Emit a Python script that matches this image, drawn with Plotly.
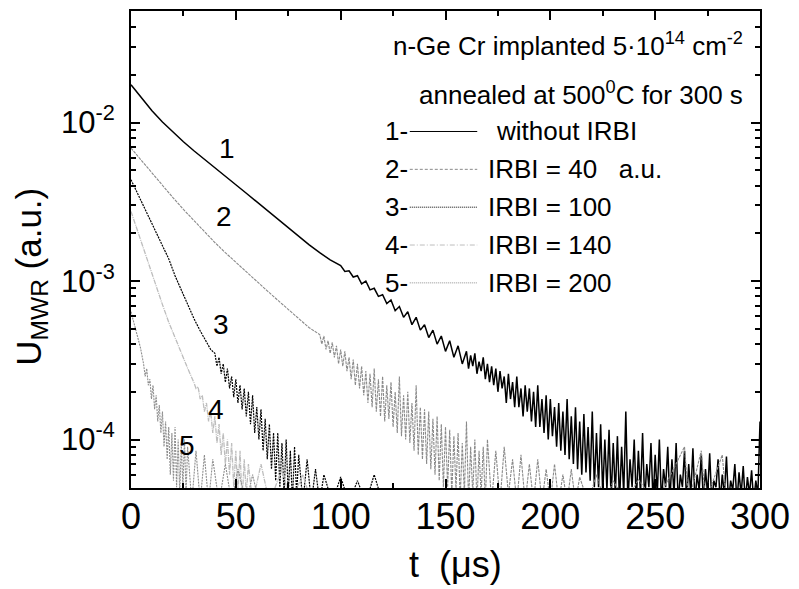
import math
import plotly.graph_objects as go

# ---------------- data ----------------
# curve 1: without IRBI
t1 = [0, 5, 10, 15, 20, 25, 30, 35, 40, 45, 50, 55, 60, 65, 70, 75, 80, 85, 90, 95,
      100, 102, 104, 106, 108, 110, 112, 114, 116, 118,
      120, 122, 124, 126, 128, 130, 132, 134, 136, 138,
      140, 142, 144, 146, 148, 150, 152, 154, 156, 158,
      160, 161, 162, 163, 164, 165, 166, 167, 168, 169,
      170, 171, 172, 173, 174, 175, 176, 177, 178, 179,
      180, 181, 182, 183, 184, 185, 186, 187, 188, 189,
      190, 191, 192, 193, 194, 195, 196, 197, 198, 199,
      200, 201, 202, 203, 204, 205, 206, 207, 208, 209,
      210, 211, 212, 213, 214, 215, 216, 217, 218, 219,
      220, 221, 222, 223, 224, 225, 226, 227, 228, 229,
      230, 231, 232, 233, 234, 235, 236, 237, 238, 239,
      240, 241, 242, 243, 244, 245, 246, 247, 248, 249,
      250, 251, 252, 253, 254, 255, 256, 257, 258, 259,
      260, 261, 262, 263, 264, 265, 266, 267, 268, 269,
      270, 271, 272, 273, 274, 275, 276, 277, 278, 279,
      280, 281, 282, 283, 284, 285, 286, 287, 288, 289,
      290, 291, 292, 293, 294, 295, 296, 297, 298, 299, 300]
u1 = [1.73e-2, 1.422e-2, 1.189e-2, 1.009e-2, 8.69e-3, 7.57e-3, 6.64e-3, 5.85e-3, 5.16e-3,
      4.57e-3, 4.05e-3, 3.58e-3, 3.16e-3, 2.79e-3, 2.45e-3, 2.16e-3, 1.91e-3, 1.69e-3,
      1.51e-3, 1.36e-3,
      1.25e-3, 1.15e-3, 1.16e-3, 1.06e-3, 1.08e-3, 9.6e-4, 1.0e-3, 8.8e-4, 9.0e-4, 8.0e-4,
      8.2e-4, 7.2e-4, 7.6e-4, 6.5e-4, 6.9e-4, 5.9e-4, 6.4e-4, 5.3e-4, 5.9e-4, 4.9e-4,
      5.3e-4, 4.4e-4, 4.9e-4, 4.0e-4, 4.5e-4, 3.6e-4, 4.2e-4, 3.3e-4, 3.9e-4, 3.0e-4,
      3.6e-4, 2.8e-4, 3.4e-4, 2.9e-4, 3.5e-4, 2.6e-4, 3.1e-4, 2.7e-4, 3.3e-4, 2.4e-4,
      3.0e-4, 2.3e-4, 2.9e-4, 2.2e-4, 2.8e-4, 2.0e-4, 2.7e-4, 2.1e-4, 2.5e-4, 1.7e-4,
      2.6e-4, 1.8e-4, 2.3e-4, 1.6e-4, 2.5e-4, 1.6e-4, 2.1e-4, 1.4e-4, 2.2e-4, 1.5e-4,
      2.1e-4, 1.3e-4, 2.0e-4, 1.2e-4, 2.2e-4, 1.2e-4, 1.8e-4, 1.1e-4, 1.9e-4, 1.0e-4,
      1.8e-4, 1.05e-4, 1.6e-4, 9.0e-5, 1.7e-4, 8.5e-5, 1.5e-4, 8.0e-5, 1.8e-4, 7.5e-5,
      1.4e-4, 7.0e-5, 1.6e-4, 6.5e-5, 1.3e-4, 6.0e-5, 1.45e-4, 6.2e-5, 1.2e-4, 5.5e-5,
      1.5e-4, 5.0e-5, 1.1e-4, 5.0e-5, 1.25e-4, 4.5e-5, 1.0e-4, 4.8e-5, 1.15e-4, 4.2e-5,
      9.5e-5, 4.5e-5, 1.05e-4, 4.0e-5, 9.0e-5, 4.5e-5, 1.5e-4, 4.0e-5, 7.5e-5, 5.0e-5,
      1.0e-4, 4.0e-5, 8.5e-5, 4.5e-5, 1.1e-4, 4.0e-5, 7.0e-5, 5.0e-5, 9.5e-5, 4.0e-5,
      8.0e-5, 4.5e-5, 1.0e-4, 4.0e-5, 6.5e-5, 5.0e-5, 9.0e-5, 4.0e-5, 7.5e-5, 4.5e-5,
      9.5e-5, 4.0e-5, 6.0e-5, 5.0e-5, 8.5e-5, 4.0e-5, 7.0e-5, 4.5e-5, 8.8e-5, 4.0e-5,
      6.0e-5, 4.8e-5, 8.0e-5, 4.0e-5, 6.5e-5, 4.5e-5, 8.2e-5, 4.0e-5, 5.5e-5, 5.0e-5,
      7.5e-5, 4.0e-5, 6.0e-5, 4.5e-5, 7.8e-5, 4.0e-5, 5.5e-5, 4.8e-5, 7.0e-5, 4.0e-5,
      6.2e-5, 4.5e-5, 6.8e-5, 4.0e-5, 5.8e-5, 4.5e-5, 6.4e-5, 4.0e-5, 5.5e-5, 4.5e-5, 1.3e-4]

# curve 2: IRBI = 40
t2 = [0, 5, 10, 15, 20, 25, 30, 35, 40, 45, 50, 55, 60, 65, 70, 75, 80, 85,
      90, 91, 92, 93, 94, 95, 96, 97, 98, 99,
      100, 101, 102, 103, 104, 105, 106, 107, 108, 109,
      110, 111, 112, 113, 114, 115, 116, 117, 118, 119,
      120, 121, 122, 123, 124, 125, 126, 127, 128, 129,
      130, 131, 132, 133, 134, 135, 136, 137, 138, 139,
      140, 141, 142, 143, 144, 145, 146, 147, 148, 149,
      150, 151, 152, 153, 154, 155, 156, 157, 158, 159,
      160, 161, 162, 163, 164, 165, 166, 167, 168, 169,
      170, 172, 174, 176, 178, 180, 182, 184, 186, 188,
      190, 192, 194, 196, 198, 200, 202, 204, 206, 208,
      210, 212, 214, 218, 222, 226, 230, 236, 242, 250,
      256, 264, 266, 272, 274, 282, 284]
u2 = [6.9e-3, 5.74e-3, 4.79e-3, 4.0e-3, 3.36e-3, 2.83e-3, 2.4e-3, 2.04e-3, 1.75e-3,
      1.51e-3, 1.31e-3, 1.14e-3, 9.93e-4, 8.67e-4, 7.57e-4, 6.62e-4, 5.79e-4, 5.07e-4,
      4.6e-4, 4.0e-4, 4.5e-4, 3.7e-4, 4.2e-4, 3.5e-4, 4.1e-4, 3.3e-4, 3.9e-4, 3.0e-4,
      3.7e-4, 2.9e-4, 3.6e-4, 2.7e-4, 3.3e-4, 2.4e-4, 3.2e-4, 2.2e-4, 3.0e-4, 2.1e-4,
      2.9e-4, 1.9e-4, 2.7e-4, 1.7e-4, 2.6e-4, 1.6e-4, 2.8e-4, 1.5e-4, 2.4e-4, 1.4e-4,
      2.5e-4, 1.3e-4, 2.2e-4, 1.35e-4, 2.3e-4, 1.2e-4, 2.0e-4, 1.1e-4, 2.5e-4, 1.05e-4,
      1.9e-4, 1.0e-4, 2.0e-4, 9.5e-5, 1.7e-4, 8.5e-5, 2.2e-4, 8.0e-5, 1.6e-4, 7.5e-5,
      1.55e-4, 7.0e-5, 1.5e-4, 6.5e-5, 1.35e-4, 6.0e-5, 1.4e-4, 5.5e-5, 1.25e-4, 5.0e-5,
      1.2e-4, 5.0e-5, 1.15e-4, 4.5e-5, 1.05e-4, 4.8e-5, 1.1e-4, 4.2e-5, 9.5e-5, 4.5e-5,
      1.3e-4, 4.0e-5, 9.0e-5, 4.5e-5, 1.0e-4, 4.0e-5, 8.5e-5, 4.5e-5, 9.0e-5, 4.0e-5,
      1.0e-4, 4.0e-5, 8.5e-5, 4.0e-5, 9.0e-5, 4.5e-5, 7.5e-5, 4.0e-5, 8.0e-5, 4.0e-5,
      7.0e-5, 4.0e-5, 7.5e-5, 4.0e-5, 6.5e-5, 4.0e-5, 7.0e-5, 4.0e-5, 6.0e-5, 4.0e-5,
      6.5e-5, 4.0e-5, 5.8e-5, 4.0e-5, 6.0e-5, 4.0e-5, 5.5e-5, 4.0e-5, 5.6e-5, 4.0e-5,
      5.5e-5, 9.0e-5, 4.0e-5, 8.5e-5, 4.0e-5, 8.0e-5, 4.0e-5]

# curve 3: IRBI = 100
t3 = [0, 3, 6, 9, 12, 15, 18, 21, 24, 27, 30, 33, 36, 38,
      40, 41, 42, 43, 44, 45, 46, 47, 48, 49,
      50, 51, 52, 53, 54, 55, 56, 57, 58, 59,
      60, 61, 62, 63, 64, 65, 66, 67, 68, 69,
      70, 71, 72, 73, 74, 75, 76, 77, 78, 79, 80,
      82, 84, 86, 88, 90, 92, 96, 100, 104, 108, 112, 116, 120]
u3 = [4.36e-3, 3.6e-3, 3.0e-3, 2.48e-3, 2.05e-3, 1.7e-3, 1.38e-3, 1.08e-3, 8.7e-4,
      7.1e-4, 5.8e-4, 4.85e-4, 4.1e-4, 3.7e-4,
      3.5e-4, 2.9e-4, 3.3e-4, 2.6e-4, 3.0e-4, 2.3e-4, 2.8e-4, 2.1e-4, 2.5e-4, 1.85e-4,
      2.4e-4, 1.7e-4, 2.2e-4, 1.55e-4, 2.1e-4, 1.4e-4, 2.0e-4, 1.25e-4, 1.9e-4, 1.1e-4,
      1.6e-4, 1.0e-4, 1.55e-4, 8.5e-5, 1.35e-4, 7.5e-5, 1.25e-4, 6.5e-5, 1.1e-4, 5.5e-5,
      1.1e-4, 5.0e-5, 9.5e-5, 4.5e-5, 1.0e-4, 4.5e-5, 8.5e-5, 4.0e-5, 9.0e-5, 4.5e-5, 8.0e-5,
      4.0e-5, 7.5e-5, 4.0e-5, 6.5e-5, 4.0e-5, 6.0e-5, 4.0e-5, 5.8e-5, 4.0e-5, 5.5e-5,
      4.0e-5, 6.0e-5, 4.0e-5]

# curve 4: IRBI = 140
t4 = [0, 3, 6, 9, 12, 15, 18, 21, 24, 27,
      30, 31, 32, 33, 34, 35, 36, 37, 38, 39,
      40, 41, 42, 43, 44, 45, 46, 47, 48, 49,
      50, 51, 52, 53, 54, 55, 56, 58, 62, 66, 72, 76, 82, 86]
u4 = [2.75e-3, 2.09e-3, 1.58e-3, 1.22e-3, 9.3e-4, 7.1e-4, 5.5e-4, 4.37e-4, 3.51e-4, 2.82e-4,
      2.29e-4, 2.1e-4, 2.15e-4, 1.8e-4, 1.9e-4, 1.5e-4, 1.7e-4, 1.3e-4, 1.5e-4, 1.1e-4,
      1.4e-4, 9.5e-5, 1.25e-4, 8.0e-5, 1.1e-4, 7.0e-5, 1.0e-4, 6.0e-5, 9.5e-5, 5.0e-5,
      8.5e-5, 4.5e-5, 8.5e-5, 4.0e-5, 7.5e-5, 4.5e-5, 7.0e-5, 4.0e-5, 7.0e-5, 4.0e-5,
      6.5e-5, 4.0e-5, 6.0e-5, 4.0e-5]

# curve 5: IRBI = 200
t5 = [0, 1.5, 3, 4.5, 6, 6.75, 7.5, 8.25, 9, 9.75, 10.5, 11.25, 12, 12.75, 13.5, 14.25,
      15, 15.75, 16.5, 17.25, 18, 18.75, 19.5, 20.25, 21, 21.75, 22.5, 23.25, 24, 24.75,
      25.5, 26.25, 27, 29, 31, 33, 35, 37, 39, 42, 45, 48, 51, 55, 58, 61]
u5 = [6.4e-4, 5.4e-4, 4.6e-4, 3.8e-4, 3.0e-4, 2.5e-4, 2.8e-4, 2.2e-4, 2.4e-4, 1.8e-4,
      2.2e-4, 1.55e-4, 1.9e-4, 1.3e-4, 1.65e-4, 1.1e-4, 1.5e-4, 9.0e-5, 1.3e-4, 7.5e-5,
      1.2e-4, 6.0e-5, 1.1e-4, 5.5e-5, 1.2e-4, 5.0e-5, 1.0e-4, 4.5e-5, 9.5e-5, 5.0e-5,
      1.0e-4, 4.5e-5, 9.0e-5, 4.0e-5, 8.5e-5, 4.0e-5, 8.0e-5, 4.0e-5, 7.5e-5, 4.0e-5,
      7.0e-5, 4.0e-5, 6.5e-5, 4.0e-5, 6.0e-5, 4.0e-5]

curve_labels = ["1", "2", "3", "4", "5"]
label_t = [45.7, 44.3, 43.1, 40.7, 26.5]
label_u = [6.87e-3, 2.55e-3, 5.28e-4, 1.556e-4, 9.16e-5]

legend_texts = ["without IRBI", "IRBI = 40   a.u.", "IRBI = 100", "IRBI = 140", "IRBI = 200"]
x_ticks = [0, 50, 100, 150, 200, 250, 300]
y_ticks = [1e-4, 1e-3, 1e-2]
y_ticktext = ["10<sup>-4</sup>", "10<sup>-3</sup>", "10<sup>-2</sup>"]
y_minor = [m * 10.0 ** e for e in (-5, -4, -3, -2) for m in range(2, 10)]

# ---------------- styles ----------------
FONT = "Arial, Liberation Sans, sans-serif"
styles = [
    dict(color="#000000", width=1.5, dash="solid"),
    dict(color="#8a8a8a", width=1.1, dash="3px,1px"),
    dict(color="#000000", width=1.2, dash="2px,1px"),
    dict(color="#bdbdbd", width=1.3, dash="5px,1px,1px,1px"),
    dict(color="#8f8f8f", width=1.1, dash="2px,1px"),
]
legend_dash = ["solid", "3px,2px", "1px,1px", "5px,2px,1px,2px", "1px,1px"]

fig = go.Figure()
for tt, uu, st, nm in zip([t1, t2, t3, t4, t5], [u1, u2, u3, u4, u5], styles, curve_labels):
    assert len(tt) == len(uu), (nm, len(tt), len(uu))
    fig.add_trace(go.Scatter(x=tt, y=uu, mode="lines", line=st, name=nm,
                             showlegend=False))

# curve number labels
for lab, tx, uy in zip(curve_labels, label_t, label_u):
    fig.add_annotation(x=tx, y=math.log10(uy), xref="x", yref="y",
                       xanchor="center", yanchor="middle",
                       text=lab, showarrow=False,
                       font=dict(family=FONT, size=28, color="black"))

# legend-like block (paper coords)
L, R, T, B = 131, 765, 9, 488
def px(x): return (x - L) / (R - L)
def py(y): return (B - y) / (B - T)

fig.add_annotation(x=px(750), y=py(43), xref="paper", yref="paper", xanchor="right",
                   yanchor="middle",
                   text="n-Ge Cr implanted 5·10<sup>14</sup> cm<sup>-2</sup>",
                   showarrow=False, font=dict(family=FONT, size=26, color="black"))
fig.add_annotation(x=px(750), y=py(92), xref="paper", yref="paper", xanchor="right",
                   yanchor="middle",
                   text="annealed at 500<sup>0</sup>C for 300 s",
                   showarrow=False, font=dict(family=FONT, size=26, color="black"))
rows_y = [130, 168, 206, 244, 282]
text_x = [497, 489, 489, 489, 489]
for i in range(5):
    fig.add_annotation(x=px(385), y=py(rows_y[i]), xref="paper", yref="paper",
                       xanchor="left", yanchor="middle", text=f"{i+1}-", showarrow=False,
                       font=dict(family=FONT, size=26, color="black"))
    fig.add_shape(type="line", xref="paper", yref="paper",
                  x0=px(412), x1=px(480), y0=py(rows_y[i]), y1=py(rows_y[i]),
                  line=dict(color=styles[i]["color"], width=1, dash=legend_dash[i]))
    fig.add_annotation(x=px(text_x[i]), y=py(rows_y[i]), xref="paper", yref="paper",
                       xanchor="left", yanchor="middle", text=legend_texts[i],
                       showarrow=False, font=dict(family=FONT, size=26, color="black"))

# axis titles
fig.add_annotation(x=px(458), y=py(565), xref="paper", yref="paper",
                   xanchor="center", yanchor="middle",
                   text="t  (μs)", showarrow=False,
                   font=dict(family=FONT, size=36, color="black"))
fig.add_annotation(x=px(30), y=py(276), xref="paper", yref="paper", textangle=-90,
                   xanchor="center", yanchor="middle",
                   text="U<sub>MWR</sub> (a.u.)", showarrow=False,
                   font=dict(family=FONT, size=35, color="black"))

fig.update_layout(
    width=799, height=589,
    margin=dict(l=L, r=799 - R, t=T, b=589 - B, pad=0),
    paper_bgcolor="white", plot_bgcolor="white",
    font=dict(family=FONT, color="black"),
    xaxis=dict(range=[0, 300], tickvals=x_ticks, showgrid=False, zeroline=False,
               showline=True, linecolor="black", linewidth=2, mirror="ticks",
               ticks="inside", ticklen=9, tickwidth=2, tickcolor="black",
               tickfont=dict(family=FONT, size=36, color="black"),
               ticklabelstandoff=-4,
               minor=dict(dtick=25, ticks="inside", ticklen=5, tickwidth=1.5,
                          tickcolor="black", showgrid=False)),
    yaxis=dict(type="log", range=[-4.306, -1.296], tickvals=y_ticks, ticktext=y_ticktext,
               showgrid=False, zeroline=False, showline=True, linecolor="black",
               linewidth=2, mirror="ticks", ticks="inside", ticklen=9, tickwidth=2,
               tickcolor="black", tickfont=dict(family=FONT, size=31, color="black"),
               ticklabelstandoff=8,
               minor=dict(tickvals=y_minor, ticks="inside", ticklen=5, tickwidth=1.5,
                          tickcolor="black", showgrid=False)),
)

fig.write_html("out.html")
